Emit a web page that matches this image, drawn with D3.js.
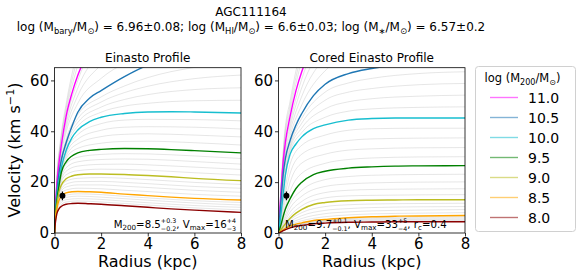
<!DOCTYPE html>
<html>
<head>
<meta charset="utf-8">
<script src="https://cdn.jsdelivr.net/npm/d3@7"></script>
<style>
  body { margin: 0; background: #fff; }
  svg { font-family: "DejaVu Sans", sans-serif; }
</style>
</head>
<body>
<svg id="chart" width="582" height="280"></svg>
<script>
const curveRadii = [0, 0.05, 0.1, 0.2, 0.3, 0.5, 0.75, 1, 1.5, 2, 3, 4, 5, 6, 8];
// Radii for the faint grid curves (kpc)
const gridRadii = [0, 0.1, 0.25, 0.5, 1, 2, 3, 4, 6, 8];

// Highlighted halo masses, log(M200/Msun)
const massLabels = ['11.0', '10.5', '10.0', '9.5', '9.0', '8.5', '8.0'];
const massColors = ['#ff00ff', '#1f77b4', '#17becf', '#008000', '#bcbd22', '#ffa500', '#8b0000'];

// Einasto profile, coloured curves (same order as massLabels)
const einastoCurves = [
  [0, 12, 19, 28, 35, 46, 55, 62, 72, 80, 91, 98, 102, 104, 106],
  [0, 10, 16, 24, 29, 35.5, 42, 47.5, 53, 56, 61.5, 66, 69, 70.5, 72],
  [0, 9, 14, 21, 26, 32.5, 37.5, 40.5, 43.8, 45.5, 47, 47.6, 47.7, 47.6, 47.2],
  [0, 8, 12.5, 19, 24, 28, 30.3, 31.5, 32.5, 32.9, 33.2, 33.1, 32.8, 32.4, 31.5],
  [0, 7, 11, 16.5, 19, 21.3, 22.4, 22.9, 23.2, 23.2, 23, 22.6, 22.1, 21.5, 20.6],
  [0, 6, 9.5, 13, 14.6, 15.8, 16.2, 16.3, 16.2, 16, 15.3, 14.7, 14.1, 13.6, 13],
  [0, 5, 7.5, 9.6, 10.5, 11.3, 11.6, 11.7, 11.5, 11.3, 10.7, 10.1, 9.5, 9, 8.1]
];

// Cored Einasto profile, coloured curves
const coredCurves = [
  [0, 8, 15, 28, 36, 46, 56, 63.5, 74, 83, 93, 99, 102, 104, 107],
  [0, 6, 12, 23, 29.5, 36.5, 42.5, 47, 54, 58.5, 62.7, 64.7, 66, 67, 68],
  [0, 3.5, 7, 15, 23, 31, 35, 37.8, 41, 42.5, 44.4, 45, 45.2, 45.2, 45.2],
  [0, 1.5, 3, 6.5, 9.5, 13.5, 17.5, 20, 23, 24.3, 25.5, 26, 26.3, 26.4, 26.5],
  [0, 0.6, 1.2, 2.5, 3.7, 5.8, 7.8, 9.3, 11.2, 12, 12.7, 12.9, 13, 13.1, 13.1],
  [0, 0.3, 0.6, 1.2, 1.8, 2.8, 3.5, 4, 4.9, 5.3, 6, 6.4, 6.6, 6.7, 6.9],
  [0, 0.2, 0.4, 0.9, 1.3, 2, 2.6, 3, 3.6, 3.9, 4.2, 4.3, 4.4, 4.4, 4.4]
];

// Faint grid of intermediate masses, Einasto
const einastoGrid = [
  [0, 8.0, 10.8, 12.2, 12.6, 12.2, 11.6, 11.0, 9.9, 9.1],
  [0, 8.5, 11.7, 13.1, 13.5, 13.2, 12.5, 11.9, 10.8, 10.1],
  [0, 9.0, 12.5, 14.0, 14.5, 14.1, 13.5, 12.9, 11.8, 11.0],
  [0, 9.5, 13.4, 14.9, 15.4, 15.1, 14.4, 13.8, 12.7, 12.0],
  [0, 10.4, 15.0, 16.9, 17.6, 17.4, 16.8, 16.3, 15.2, 14.5],
  [0, 10.8, 15.7, 18.1, 18.9, 18.9, 18.4, 17.9, 16.8, 16.0],
  [0, 11.2, 16.5, 19.2, 20.2, 20.3, 19.9, 19.4, 18.3, 17.6],
  [0, 11.6, 17.2, 20.4, 21.5, 21.8, 21.5, 21.0, 19.9, 19.1],
  [0, 12.2, 18.8, 22.9, 24.5, 25.1, 25.0, 24.7, 23.7, 22.8],
  [0, 12.4, 19.6, 24.3, 26.3, 27.0, 27.1, 26.8, 25.9, 25.0],
  [0, 12.6, 20.4, 25.7, 28.0, 28.9, 29.1, 29.0, 28.1, 27.1],
  [0, 12.8, 21.2, 27.1, 29.8, 30.9, 31.2, 31.1, 30.3, 29.3],
  [0, 13.4, 22.6, 29.4, 33.3, 35.3, 36.0, 36.1, 35.5, 34.6],
  [0, 13.8, 23.2, 30.3, 35.1, 37.9, 38.8, 39.0, 38.5, 37.8],
  [0, 14.2, 23.8, 31.2, 36.9, 40.4, 41.6, 41.8, 41.6, 40.9],
  [0, 14.6, 24.4, 32.1, 38.7, 43.0, 44.4, 44.7, 44.6, 44.1],
  [0, 15.4, 25.6, 34.0, 42.0, 47.5, 49.9, 51.0, 52.0, 52.2],
  [0, 15.8, 26.2, 35.0, 43.5, 49.5, 52.5, 54.4, 56.4, 57.1],
  [0, 16.2, 26.8, 36.0, 45.0, 51.5, 55.2, 57.7, 60.7, 62.1],
  [0, 16.6, 27.4, 37.0, 46.5, 53.5, 57.8, 61.1, 65.1, 67.0],
  [0, 17.6, 29.0, 39.6, 51.0, 60.8, 66.8, 71.2, 76.4, 78.8],
  [0, 18.2, 30.0, 41.2, 54.0, 66.1, 73.1, 77.9, 83.3, 85.6],
  [0, 18.8, 31.0, 42.8, 57.0, 71.4, 79.4, 84.6, 90.2, 92.4],
  [0, 19.4, 32.0, 44.4, 60.0, 76.7, 85.7, 91.3, 97.1, 99.2],
  [0, 20.6, 34.0, 47.6, 66.0, 87.0, 98.0, 104, 110, 112],
  [0, 21.2, 35.0, 49.2, 69.0, 92.0, 104, 110, 116, 118],
  [0, 21.8, 36.0, 50.8, 72.0, 97.0, 110, 116, 122, 124]
];

// Faint grid of intermediate masses, cored Einasto
const coredGrid = [
  [0, 0.56, 1.32, 2.16, 3.2, 4.18, 4.56, 4.72, 4.86, 4.9],
  [0, 0.62, 1.44, 2.32, 3.4, 4.46, 4.92, 5.14, 5.32, 5.4],
  [0, 0.68, 1.56, 2.48, 3.6, 4.74, 5.28, 5.56, 5.78, 5.9],
  [0, 0.74, 1.68, 2.64, 3.8, 5.02, 5.64, 5.98, 6.24, 6.4],
  [0, 0.8, 2.0, 3.3, 4.8, 6.4, 7.1, 7.5, 7.8, 8.0],
  [0, 0.9, 2.3, 3.8, 5.7, 7.6, 8.3, 8.7, 9.0, 9.2],
  [0, 1.0, 2.6, 4.5, 6.8, 8.9, 9.6, 10.0, 10.3, 10.4],
  [0, 1.1, 2.9, 5.2, 8.0, 10.4, 11.1, 11.4, 11.6, 11.7],
  [0, 1.4, 3.6, 6.8, 10.7, 13.8, 14.6, 14.8, 15.0, 15.1],
  [0, 1.7, 4.3, 8.2, 12.4, 15.9, 16.8, 17.1, 17.3, 17.4],
  [0, 2.1, 5.1, 9.8, 14.5, 18.3, 19.3, 19.7, 20.0, 20.1],
  [0, 2.5, 6.1, 11.6, 16.8, 21.0, 22.2, 22.7, 23.0, 23.1],
  [0, 3.6, 9.0, 16.5, 23.5, 27.4, 28.9, 29.5, 29.9, 30.0],
  [0, 4.4, 11.0, 20.0, 27.5, 31.0, 32.6, 33.1, 33.5, 33.6],
  [0, 5.3, 13.2, 23.5, 31.0, 34.7, 36.4, 37.0, 37.3, 37.4],
  [0, 6.1, 15.4, 27.2, 34.5, 38.5, 40.4, 41.0, 41.2, 41.2],
  [0, 7.8, 20.0, 32.0, 39.5, 45.5, 47.9, 48.8, 49.4, 49.6],
  [0, 8.8, 21.8, 33.0, 41.3, 48.8, 51.6, 52.8, 53.8, 54.2],
  [0, 9.8, 23.6, 34.0, 43.2, 52.2, 55.4, 56.8, 58.3, 58.8],
  [0, 10.9, 25.4, 35.2, 45.1, 55.4, 59.0, 60.8, 62.7, 63.4],
  [0, 12.6, 28.2, 38.2, 50.4, 63.8, 69.2, 71.8, 74.6, 75.8],
  [0, 13.2, 29.4, 40.0, 53.8, 69.1, 75.7, 78.9, 82.2, 83.6],
  [0, 13.8, 30.6, 41.8, 57.2, 74.4, 82.2, 86.0, 89.8, 91.4],
  [0, 14.4, 31.8, 43.6, 60.6, 79.7, 88.7, 93.1, 97.4, 99.2],
  [0, 16.0, 35.0, 48.0, 68.0, 92.0, 102, 107, 112, 114],
  [0, 16.6, 36.5, 50.0, 71.0, 97.0, 108, 113, 118, 120],
  [0, 17.2, 38.0, 52.0, 74.0, 102, 114, 119, 124, 126]
];

// Observed point (same in both panels)
const obsRadius = 0.34;
const obsVel = 14.6;
const obsErr = 1.7;

const xTicks = [0, 2, 4, 6, 8];
const yTicks = [0, 20, 40, 60];

const svg = d3.select('#chart');

// helper: write text with sub/superscripts, measured piece by piece
function richText(parent, x, y, parts, size, anchor) {
  const g = parent.append('g');
  let cx = 0;
  const small = size * 0.7;
  parts.forEach(p => {
    if (typeof p === 'string') {
      const t = g.append('text').attr('x', cx).attr('y', 0)
        .attr('font-size', size).text(p);
      cx += t.node().getComputedTextLength();
    } else if (p.sup !== undefined && p.sub !== undefined) {
      // stacked limits, drawn a bit smaller
      const a = g.append('text').attr('x', cx).attr('y', -size * 0.45)
        .attr('font-size', size * 0.62).text(p.sup);
      const b = g.append('text').attr('x', cx).attr('y', size * 0.33)
        .attr('font-size', size * 0.62).text(p.sub);
      cx += Math.max(a.node().getComputedTextLength(), b.node().getComputedTextLength());
    } else if (p.sub !== undefined) {
      const t = g.append('text').attr('x', cx).attr('y', size * 0.22)
        .attr('font-size', small).text(p.sub);
      cx += t.node().getComputedTextLength();
    } else if (p.sup !== undefined) {
      const t = g.append('text').attr('x', cx).attr('y', -size * 0.4)
        .attr('font-size', small).text(p.sup);
      cx += t.node().getComputedTextLength();
    }
  });
  const shift = anchor === 'middle' ? -cx / 2 : anchor === 'end' ? -cx : 0;
  g.attr('transform', `translate(${x + shift},${y})`);
  return g;
}

// Titles
richText(svg, 251, 16, ['AGC111164'], 12, 'middle');
richText(svg, 251, 31, [
  'log (M', { sub: 'bary' }, '/M', { sub: '\u2299' }, ') = 6.96\u00b10.08; log (M', { sub: 'HI' },
  '/M', { sub: '\u2299' }, ') = 6.6\u00b10.03; log (M', { sub: '\u2217' }, '/M', { sub: '\u2299' },
  ') = 6.57\u00b10.2'
], 12, 'middle');

const plotTop = 67.7, plotBottom = 233;
const panels = [
  { x0: 54.5, x1: 241, title: 'Einasto Profile', curves: einastoCurves, grid: einastoGrid, id: 'p0',
    note: ['M', { sub: '200' }, '=8.5', { sup: '+0.3', sub: '\u22120.2' }, ', V', { sub: 'max' }, '=16', { sup: '+4', sub: '\u22123' }],
    noteX: 236, noteAnchor: 'end' },
  { x0: 278.5, x1: 465, title: 'Cored Einasto Profile', curves: coredCurves, grid: coredGrid, id: 'p1',
    note: ['M', { sub: '200' }, '=9.7', { sup: '+0.1', sub: '\u22120.1' }, ', V', { sub: 'max' }, '=33', { sup: '+5', sub: '\u22124' }, ', r', { sub: 'c' }, '=0.4'],
    noteX: 285, noteAnchor: 'start' }
];

const y = d3.scaleLinear().domain([0, 65]).range([plotBottom, plotTop]);

panels.forEach(p => {
  const x = d3.scaleLinear().domain([0, 8]).range([p.x0, p.x1]);
  const gridLine = d3.line()
    .x((d, i) => x(gridRadii[i]))
    .y(d => y(d))
    .curve(d3.curveMonotoneX);
  const massLine = d3.line()
    .x((d, i) => x(curveRadii[i]))
    .y(d => y(d))
    .curve(d3.curveMonotoneX);

  svg.append('clipPath').attr('id', 'clip-' + p.id)
    .append('rect').attr('x', p.x0).attr('y', plotTop)
    .attr('width', p.x1 - p.x0).attr('height', plotBottom - plotTop);

  const plot = svg.append('g').attr('clip-path', `url(#clip-${p.id})`);

  plot.selectAll('path.grid')
    .data(p.grid)
    .enter().append('path')
    .attr('class', 'grid')
    .attr('d', gridLine)
    .attr('fill', 'none')
    .attr('stroke', '#808080')
    .attr('stroke-opacity', 0.2)
    .attr('stroke-width', 1);

  plot.selectAll('path.mass')
    .data(p.curves)
    .enter().append('path')
    .attr('class', 'mass')
    .attr('d', massLine)
    .attr('fill', 'none')
    .attr('stroke', (d, i) => massColors[i])
    .attr('stroke-width', 1.4);

  // observed point with error bar
  plot.append('line')
    .attr('x1', x(obsRadius)).attr('x2', x(obsRadius))
    .attr('y1', y(obsVel - obsErr)).attr('y2', y(obsVel + obsErr))
    .attr('stroke', '#000').attr('stroke-width', 1.2);
  plot.append('circle')
    .attr('cx', x(obsRadius)).attr('cy', y(obsVel)).attr('r', 3)
    .attr('fill', '#000');

  // axes
  const xAxis = svg.append('g').attr('transform', `translate(0,${plotBottom})`)
    .call(d3.axisBottom(x).tickValues(xTicks).tickSize(3.5).tickPadding(2).tickFormat(d3.format('d')));
  const yAxis = svg.append('g').attr('transform', `translate(${p.x0},0)`)
    .call(d3.axisLeft(y).tickValues(yTicks).tickSize(3.5).tickPadding(2).tickFormat(d3.format('d')));
  [xAxis, yAxis].forEach(a => {
    a.select('.domain').remove();
    a.selectAll('text').attr('font-size', 15).attr('fill', '#000')
      .attr('font-family', '"DejaVu Sans", sans-serif');
    a.selectAll('line').attr('stroke', '#000').attr('stroke-width', 0.8);
  });

  svg.append('rect')
    .attr('x', p.x0).attr('y', plotTop)
    .attr('width', p.x1 - p.x0).attr('height', plotBottom - plotTop)
    .attr('fill', 'none').attr('stroke', '#000').attr('stroke-width', 0.8);

  richText(svg, (p.x0 + p.x1) / 2, 62, [p.title], 12, 'middle');
  richText(svg, (p.x0 + p.x1) / 2, 267, ['Radius (kpc)'], 16, 'middle');
  richText(svg, p.noteX, 228, p.note, 10.2, p.noteAnchor);
});

// y axis label
const ylab = svg.append('g').attr('transform', 'translate(20,150) rotate(-90)');
richText(ylab, 0, 0, ['Velocity (km s', { sup: '\u22121' }, ')'], 16, 'middle');

// legend
const leg = svg.append('g');
leg.append('rect')
  .attr('x', 475.5).attr('y', 66.5).attr('width', 100).attr('height', 165)
  .attr('rx', 3).attr('fill', '#fff').attr('stroke', '#d0d0d0').attr('stroke-width', 1);
richText(leg, 522.5, 82, ['log (M', { sub: '200' }, '/M', { sub: '\u2299' }, ')'], 11.5, 'middle');
massLabels.forEach((m, i) => {
  const ly = 97.5 + i * 20;
  leg.append('line')
    .attr('x1', 490).attr('x2', 518).attr('y1', ly).attr('y2', ly)
    .attr('stroke', massColors[i]).attr('stroke-opacity', 0.55).attr('stroke-width', 1.4);
  leg.append('text')
    .attr('x', 528).attr('y', ly + 5)
    .attr('font-size', 14).text(m);
});
</script>
</body>
</html>
